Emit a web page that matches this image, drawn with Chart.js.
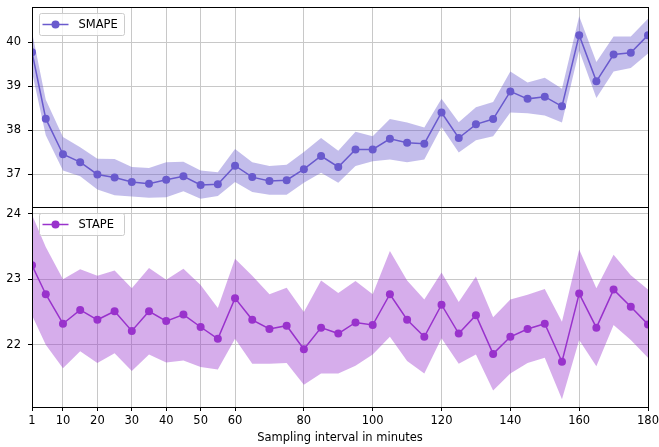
<!DOCTYPE html>
<html><head><meta charset="utf-8">
<script src="https://cdn.jsdelivr.net/npm/chart.js@4/dist/chart.umd.min.js"></script>
<style>html,body{margin:0;padding:0;background:#fff;}#wrap{width:659px;height:447px;position:relative}</style>
</head><body><div id="wrap"><canvas id="c" width="659" height="447"></canvas></div>
<script>
const intervals = [1,5,10,15,20,25,30,35,40,45,50,55,60,65,70,75,80,85,90,95,100,105,110,115,120,125,130,135,140,145,150,155,160,165,170,175,180];
const smapeMean  = [39.77,38.26,37.45,37.27,36.99,36.92,36.82,36.78,36.87,36.95,36.75,36.77,37.19,36.93,36.84,36.86,37.11,37.41,37.16,37.56,37.56,37.80,37.71,37.69,38.40,37.82,38.13,38.25,38.88,38.71,38.76,38.54,40.16,39.11,39.72,39.76,40.16];
const smapeUpper = [40.23,38.69,37.84,37.61,37.35,37.34,37.16,37.14,37.27,37.28,37.08,37.04,37.57,37.27,37.18,37.21,37.50,37.82,37.53,37.96,37.86,38.25,38.17,38.06,38.71,38.18,38.52,38.64,39.33,39.08,39.19,38.94,40.59,39.55,40.13,40.13,40.53];
const smapeLower = [39.32,37.88,37.08,36.95,36.65,36.52,36.49,36.46,36.47,36.61,36.44,36.50,36.82,36.59,36.53,36.53,36.80,37.03,36.80,37.18,37.29,37.33,37.27,37.33,38.07,37.49,37.77,37.86,38.40,38.38,38.33,38.17,39.81,38.73,39.33,39.41,39.74];
const stapeMean  = [23.21,22.77,22.32,22.53,22.38,22.51,22.21,22.51,22.36,22.46,22.27,22.09,22.71,22.38,22.24,22.29,21.93,22.26,22.17,22.34,22.30,22.77,22.38,22.12,22.61,22.17,22.45,21.86,22.12,22.24,22.32,21.74,22.78,22.26,22.84,22.58,22.31];
const stapeUpper = [23.98,23.49,23.00,23.15,23.05,23.13,22.86,23.17,22.99,23.16,22.91,22.56,23.31,23.05,22.77,22.87,22.50,22.98,22.79,22.97,22.77,23.43,22.98,22.69,23.10,22.65,23.04,22.42,22.69,22.76,22.85,22.35,23.45,22.86,23.37,23.06,22.84];
const stapeLower = [22.45,22.00,21.64,21.90,21.72,21.87,21.60,21.85,21.73,21.76,21.66,21.62,22.09,21.71,21.71,21.72,21.39,21.56,21.56,21.68,21.85,22.12,21.75,21.56,22.10,21.71,21.85,21.30,21.56,21.72,21.80,21.17,22.07,21.67,22.30,22.07,21.80];
const xTicks = [1,10,20,30,40,50,60,80,100,120,140,160,180];
const smapeTicks = [37,38,39,40];
const stapeTicks = [22,23,24];
const seriesNames = ['SMAPE','STAPE'];
const xTitle = 'Sampling interval in minutes';

const SMAPE_COLOR = '#6a5acd', SMAPE_BAND = 'rgba(106,90,205,0.4)';
const STAPE_COLOR = '#9932cc', STAPE_BAND = 'rgba(153,50,204,0.4)';
const pts = arr => arr.map((v,i)=>({x:intervals[i], y:v}));
const FONT = {family:'DejaVu Sans', size:11.5};
Chart.defaults.font.family = 'DejaVu Sans';
Chart.defaults.color = '#000';

function bandSet(upper, lower, axis, color){
  return [
    {data:pts(upper), yAxisID:axis, borderWidth:0, pointRadius:0, backgroundColor:color, fill:'+1', tension:0},
    {data:pts(lower), yAxisID:axis, borderWidth:0, pointRadius:0, backgroundColor:color, fill:false, tension:0}
  ];
}
function lineSet(label, mean, axis, color){
  return {label, data:pts(mean), yAxisID:axis, borderColor:color, backgroundColor:color, borderWidth:1.5,
    pointRadius:4, pointHoverRadius:4, pointBorderWidth:0, pointBackgroundColor:color, fill:false, tension:0};
}
function yScale(min, max, ticks){
  return {type:'linear', position:'left', stack:'panels', stackWeight:1, min, max,
    afterBuildTicks: s => { s.ticks = ticks.map(v=>({value:v})); },
    afterFit: s => { s.width = 32; s.paddingTop = 0; s.paddingBottom = 0; },
    ticks:{font:FONT, padding:7, color:'#000'},
    grid:{color:'#c8c8c8', lineWidth:1, tickColor:'#000', tickLength:4},
    border:{display:false}};
}

const panelPlugin = {
  id:'panels',
  afterDatasetsDraw(chart){
    const ctx = chart.ctx, a = chart.chartArea;
    ctx.save();
    const panels = [['ySmape', seriesNames[0], SMAPE_COLOR], ['yStape', seriesNames[1], STAPE_COLOR]];
    for (const [id, name, color] of panels){
      const s = chart.scales[id];
      const bx = Math.round(a.left) + 7.5, by = Math.round(s.top) + 6.5, bw = 85, bh = 22;
      ctx.beginPath();
      if (ctx.roundRect) ctx.roundRect(bx, by, bw, bh, 2); else ctx.rect(bx, by, bw, bh);
      ctx.fillStyle = 'rgba(255,255,255,0.8)'; ctx.fill();
      ctx.strokeStyle = '#cccccc'; ctx.lineWidth = 1; ctx.stroke();
      const cy = by + bh/2;
      ctx.beginPath(); ctx.moveTo(bx+3, cy); ctx.lineTo(bx+29, cy);
      ctx.strokeStyle = color; ctx.lineWidth = 1.5; ctx.stroke();
      ctx.beginPath(); ctx.arc(bx+16, cy, 4, 0, Math.PI*2); ctx.fillStyle = color; ctx.fill();
      ctx.fillStyle = '#000'; ctx.font = '11.5px "DejaVu Sans"'; ctx.textBaseline = 'middle'; ctx.textAlign = 'left';
      ctx.fillText(name, bx+39, cy+0.5);
      ctx.strokeStyle = '#000'; ctx.lineWidth = 1;
      ctx.strokeRect(Math.round(a.left)+0.5, Math.round(s.top)+0.5, Math.round(a.right-a.left), Math.round(s.bottom-s.top));
    }
    ctx.restore();
  }
};

new Chart(document.getElementById('c'), {
  type:'line',
  data:{datasets:[
    ...bandSet(smapeUpper, smapeLower, 'ySmape', SMAPE_BAND),
    lineSet(seriesNames[0], smapeMean, 'ySmape', SMAPE_COLOR),
    ...bandSet(stapeUpper, stapeLower, 'yStape', STAPE_BAND),
    lineSet(seriesNames[1], stapeMean, 'yStape', STAPE_COLOR)
  ]},
  options:{
    responsive:false, animation:false, devicePixelRatio:1,
    layout:{padding:{top:7, right:0, left:0, bottom:0}},
    plugins:{legend:{display:false}, tooltip:{enabled:false}},
    scales:{
      x:{type:'linear', min:1, max:180,
        afterBuildTicks: s => { s.ticks = xTicks.map(v=>({value:v})); },
        afterFit: s => { s.height = 40; s.paddingLeft = 0; s.paddingRight = 11; },
        ticks:{font:FONT, padding:3, autoSkip:false, maxRotation:0, color:'#000'},
        grid:{color:'#c8c8c8', lineWidth:1, tickColor:'#000', tickLength:4},
        border:{display:false},
        title:{display:true, text:xTitle, font:FONT, color:'#000', padding:{top:0, bottom:2}}},
      yStape: yScale(21.05, 24.1, stapeTicks),
      ySmape: yScale(36.25, 40.8, smapeTicks)
    }
  },
  plugins:[panelPlugin]
});
</script></body></html>
